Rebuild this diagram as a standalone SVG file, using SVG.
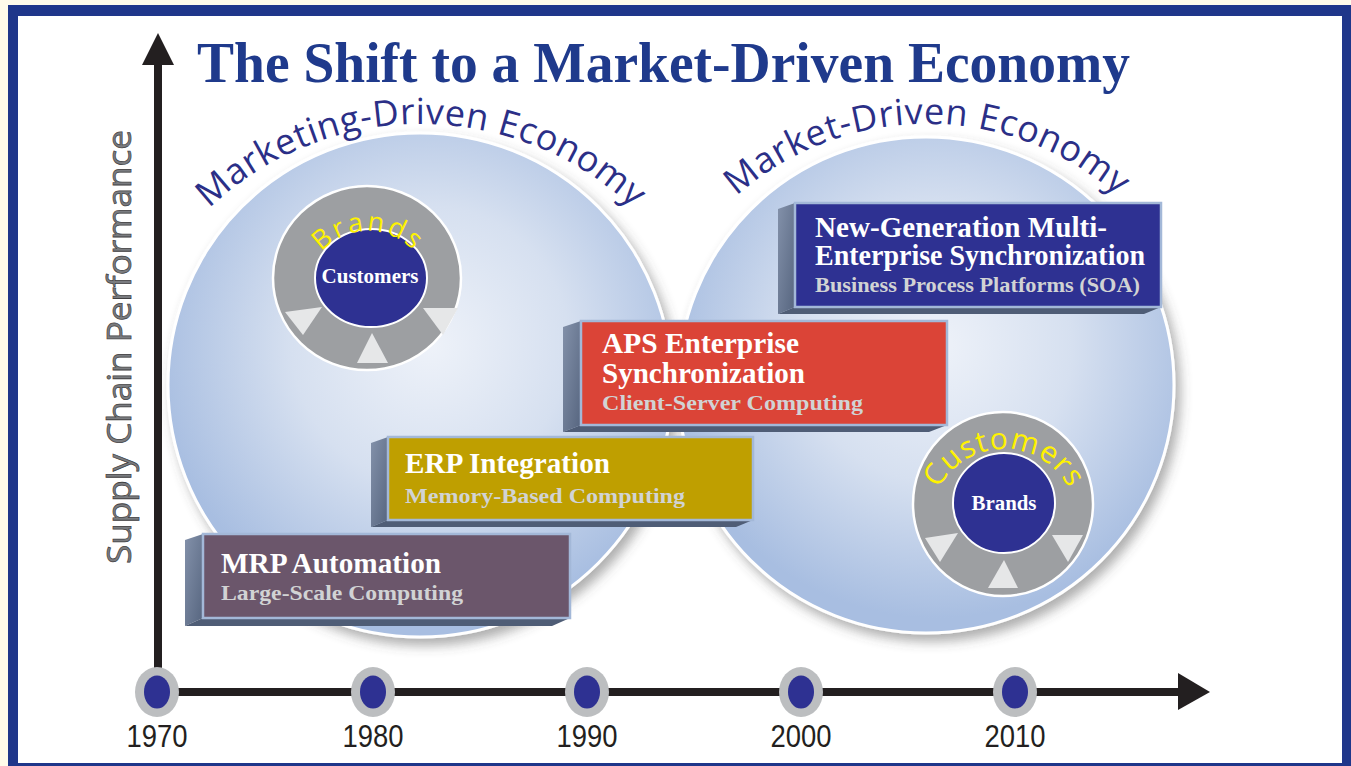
<svg xmlns="http://www.w3.org/2000/svg" width="1351" height="766" viewBox="0 0 1351 766">
  <defs>
    <radialGradient id="bubble" cx="52%" cy="42%" r="55%">
      <stop offset="0" stop-color="#eef2f9"/>
      <stop offset="0.5" stop-color="#d6e0f0"/>
      <stop offset="1" stop-color="#a8bee1"/>
    </radialGradient>
    <linearGradient id="sideFace" x1="0" y1="0" x2="1" y2="1">
      <stop offset="0" stop-color="#8391aa"/>
      <stop offset="1" stop-color="#56657f"/>
    </linearGradient>
    <filter id="shadow" x="-20%" y="-20%" width="140%" height="140%">
      <feDropShadow dx="5" dy="7" stdDeviation="6" flood-color="#4a4a4a" flood-opacity="0.45"/>
    </filter>
    <!-- arcs that carry the curved labels -->
    <path id="arcLeft" d="M185.1,234 A308,308 0 0 1 656.9,234"/>
    <path id="arcRight" d="M728,204 A287,287 0 0 1 1126,204"/>
    <path id="arcBrands" d="M306,293 A62,62 0 0 1 430,293"/>
    <path id="arcCustomers" d="M931,522 A73,73 0 0 1 1077,522"/>
  </defs>
  <style>
    .frame { fill: #1f368a; }
    .title { font-family: "Liberation Serif", "Times New Roman", serif; font-weight: bold; font-size: 57px; fill: #1f3a8c; }
    .axis { stroke: #231f20; stroke-width: 8; fill: none; }
    .head { fill: #231f20; }
    .bigCircle { fill: url(#bubble); stroke: #ffffff; stroke-width: 3; filter: url(#shadow); }
    .arcText { font-family: "Open Sans", "Noto Sans", sans-serif; font-size: 36px; fill: #2b2f87; stroke: #ffffff; stroke-width: 0.6; paint-order: stroke; }
    .ring { fill: #9d9fa2; stroke: #ffffff; stroke-width: 2.5; }
    .core { fill: #2e3192; stroke: #ffffff; stroke-width: 2; }
    .tri { fill: #e6e7e8; }
    .ringText { font-family: "Open Sans", "Noto Sans", sans-serif; fill: #fff200; }
    .coreText { font-family: "Liberation Serif", serif; font-weight: bold; font-size: 20px; fill: #ffffff; text-anchor: middle; }
    .side { fill: url(#sideFace); }
    .bottom { fill: #4f5d76; }
    .front { stroke: #a3b8d8; stroke-width: 2.5; }
    .boxTitle { font-family: "Liberation Serif", serif; font-weight: bold; font-size: 28.5px; fill: #ffffff; }
    .boxSub { font-family: "Liberation Serif", serif; font-weight: bold; font-size: 22px; fill: #d1d3d4; }
    .nodeOuter { fill: #bcbec0; }
    .nodeInner { fill: #2e3192; }
    .year { font-family: "Liberation Sans", Arial, sans-serif; font-size: 31px; fill: #231f20; text-anchor: middle; }
    .yLabel { font-family: "Open Sans", "Noto Sans", sans-serif; font-size: 32px; fill: #7a7c80; stroke: #414042; stroke-width: 0.7; }
  </style>

  <!-- page and frame -->
  <rect x="0" y="0" width="1351" height="766" fill="#fffbea"/>
  <rect class="frame" x="8" y="5" width="1343" height="761"/>
  <rect x="18" y="16" width="1324" height="747" fill="#ffffff"/>

  <text class="title" x="197" y="82" textLength="933" lengthAdjust="spacingAndGlyphs">The Shift to a Market-Driven Economy</text>

  <!-- economy bubbles -->
  <g id="marketing-economy">
    <circle class="bigCircle" cx="420" cy="385" r="252"/>
    <text class="arcText" letter-spacing="0.5"><textPath href="#arcLeft" startOffset="50%" text-anchor="middle">Marketing-Driven Economy</textPath></text>
  </g>
  <g id="market-economy">
    <circle class="bigCircle" cx="926" cy="385" r="248"/>
    <text class="arcText" letter-spacing="0.6"><textPath href="#arcRight" startOffset="50%" text-anchor="middle">Market-Driven Economy</textPath></text>
  </g>

  <!-- brands around customers -->
  <g id="brands-ring">
    <ellipse class="ring" cx="367" cy="278" rx="94" ry="92"/>
    <polygon class="tri" points="285,312 322,307 303,335"/>
    <polygon class="tri" points="357,363 388,363 372,333"/>
    <polygon class="tri" points="423,308 458,308 443,335"/>
    <ellipse class="core" cx="371" cy="278" rx="56" ry="49"/>
    <text class="ringText" font-size="27" letter-spacing="2.6"><textPath href="#arcBrands" startOffset="50%" text-anchor="middle">Brands</textPath></text>
    <text class="coreText" x="370" y="283" textLength="97" lengthAdjust="spacingAndGlyphs">Customers</text>
  </g>

  <!-- customers around brands -->
  <g id="customers-ring">
    <ellipse class="ring" cx="1003" cy="504" rx="90" ry="92"/>
    <polygon class="tri" points="925,538 958,533 940,562"/>
    <polygon class="tri" points="988,588 1018,588 1004,560"/>
    <polygon class="tri" points="1052,535 1083,535 1068,562"/>
    <ellipse class="core" cx="1004" cy="503" rx="51" ry="50"/>
    <text class="ringText" font-size="30" letter-spacing="1"><textPath href="#arcCustomers" startOffset="50%" text-anchor="middle">Customers</textPath></text>
    <text class="coreText" x="1004" y="510" textLength="65" lengthAdjust="spacingAndGlyphs">Brands</text>
  </g>

  <!-- technology stages -->
  <g id="mrp">
    <polygon class="side" points="185,540 203,534 203,618 185,626"/>
    <polygon class="bottom" points="185,626 203,618 570,618 552,626"/>
    <rect class="front" x="203" y="534" width="367" height="84" fill="#6b566b"/>
    <text class="boxTitle" x="221" y="573" textLength="220" lengthAdjust="spacingAndGlyphs">MRP Automation</text>
    <text class="boxSub" x="221" y="600" textLength="242" lengthAdjust="spacingAndGlyphs">Large-Scale Computing</text>
  </g>
  <g id="erp">
    <polygon class="side" points="371,443 388,437 388,520 371,527"/>
    <polygon class="bottom" points="371,527 388,520 753,520 736,527"/>
    <rect class="front" x="388" y="437" width="365" height="83" fill="#bf9f00"/>
    <text class="boxTitle" x="405" y="473" textLength="205" lengthAdjust="spacingAndGlyphs">ERP Integration</text>
    <text class="boxSub" x="405" y="503" textLength="280" lengthAdjust="spacingAndGlyphs" fill="#e2e2e2">Memory-Based Computing</text>
  </g>
  <g id="aps">
    <polygon class="side" points="563,327 581,321 581,425 563,432"/>
    <polygon class="bottom" points="563,432 581,425 947,425 929,432"/>
    <rect class="front" x="581" y="321" width="366" height="104" fill="#db4437"/>
    <text class="boxTitle" x="602" y="353" textLength="197" lengthAdjust="spacingAndGlyphs">APS Enterprise</text>
    <text class="boxTitle" x="602" y="383" textLength="203" lengthAdjust="spacingAndGlyphs">Synchronization</text>
    <text class="boxSub" x="602" y="410" textLength="261" lengthAdjust="spacingAndGlyphs">Client-Server Computing</text>
  </g>
  <g id="multi-enterprise">
    <polygon class="side" points="778,209 795,203 795,307 778,314"/>
    <polygon class="bottom" points="778,314 795,307 1161,307 1144,314"/>
    <rect class="front" x="795" y="203" width="366" height="104" fill="#2e3192"/>
    <text class="boxTitle" x="815" y="237" textLength="292" lengthAdjust="spacingAndGlyphs">New-Generation Multi-</text>
    <text class="boxTitle" x="815" y="265" textLength="330" lengthAdjust="spacingAndGlyphs">Enterprise Synchronization</text>
    <text class="boxSub" x="815" y="292" textLength="325" lengthAdjust="spacingAndGlyphs" fill="#c7c8ca">Business Process Platforms (SOA)</text>
  </g>

  <!-- axes -->
  <g id="axes">
    <line class="axis" x1="158" y1="62" x2="158" y2="692"/>
    <polygon class="head" points="142,65 158,33 174,65"/>
    <line class="axis" x1="158" y1="692" x2="1180" y2="692"/>
    <polygon class="head" points="1178,673 1210,692 1178,710"/>
  </g>
  <text class="yLabel" transform="translate(131,564) rotate(-90)" textLength="434" lengthAdjust="spacingAndGlyphs">Supply Chain Performance</text>

  <!-- decade markers -->
  <g id="y1970">
    <ellipse class="nodeOuter" cx="157" cy="692" rx="22" ry="25"/>
    <ellipse class="nodeInner" cx="157" cy="692" rx="13" ry="16.5"/>
    <text class="year" x="157" y="747" textLength="61" lengthAdjust="spacingAndGlyphs">1970</text>
  </g>
  <g id="y1980">
    <ellipse class="nodeOuter" cx="373" cy="692" rx="22" ry="25"/>
    <ellipse class="nodeInner" cx="373" cy="692" rx="13" ry="16.5"/>
    <text class="year" x="373" y="747" textLength="61" lengthAdjust="spacingAndGlyphs">1980</text>
  </g>
  <g id="y1990">
    <ellipse class="nodeOuter" cx="587" cy="692" rx="22" ry="25"/>
    <ellipse class="nodeInner" cx="587" cy="692" rx="13" ry="16.5"/>
    <text class="year" x="587" y="747" textLength="61" lengthAdjust="spacingAndGlyphs">1990</text>
  </g>
  <g id="y2000">
    <ellipse class="nodeOuter" cx="801" cy="692" rx="22" ry="25"/>
    <ellipse class="nodeInner" cx="801" cy="692" rx="13" ry="16.5"/>
    <text class="year" x="801" y="747" textLength="61" lengthAdjust="spacingAndGlyphs">2000</text>
  </g>
  <g id="y2010">
    <ellipse class="nodeOuter" cx="1015" cy="692" rx="22" ry="25"/>
    <ellipse class="nodeInner" cx="1015" cy="692" rx="13" ry="16.5"/>
    <text class="year" x="1015" y="747" textLength="61" lengthAdjust="spacingAndGlyphs">2010</text>
  </g>
</svg>
